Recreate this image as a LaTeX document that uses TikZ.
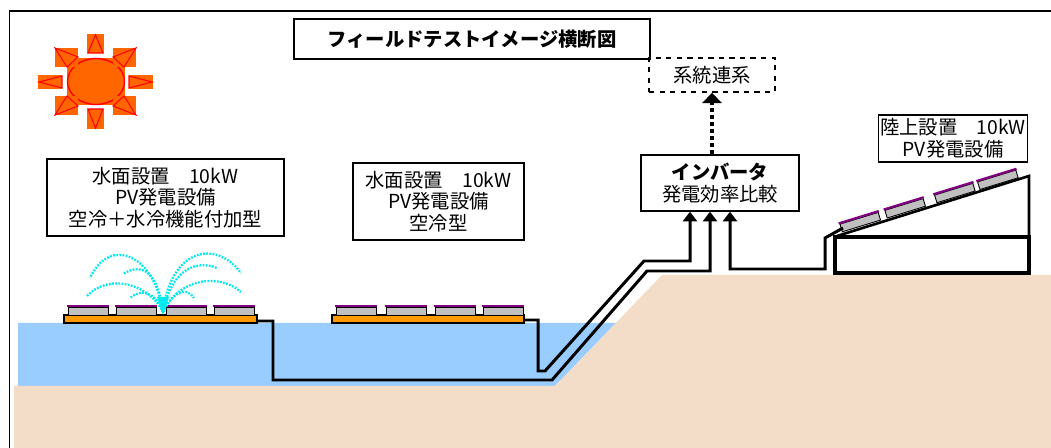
\documentclass[tikz,border=0pt]{standalone}
\usepackage{fontspec}
\setmainfont{Noto Sans CJK JP}
\usetikzlibrary{arrows.meta}

\definecolor{sunorange}{RGB}{255,102,0}
\definecolor{pond}{RGB}{153,204,255}
\definecolor{sand}{RGB}{243,221,201}
\definecolor{floatorange}{RGB}{255,153,0}
\definecolor{cellgray}{RGB}{192,192,192}
\definecolor{cellpurple}{RGB}{128,0,128}
\definecolor{spray}{RGB}{0,232,240}

\tikzset{
  box/.style={draw, line width=0.8pt, align=center, inner sep=1pt,
    font=\fontsize{11}{12.3}\selectfont},
  cable/.style={line width=1.7pt, line join=miter},
  feed/.style={-{Triangle[width=8pt,length=5.5pt]}},
  ray/.style={draw=red, fill=sunorange, line width=0.6pt},
  jet/.style={spray, line width=1.3pt, dash pattern=on 1pt off 0.8pt},
  cell/.style={draw, fill=cellgray, line width=0.5pt},
}

\begin{document}
\begin{tikzpicture}[x=0.02cm, y=-0.02cm]
\useasboundingbox (0,0) rectangle (1051,448);
% frame
\draw[line width=0.8pt] (9.5,448) -- (9.5,11) -- (1051,11);

% pond and ground
\fill[pond] (18,323) -- (616,323) -- (553,388) -- (18,388) -- cycle;
\fill[sand] (14,386) -- (555,386) -- (662,275) -- (1051,275) -- (1051,448) -- (14,448) -- cycle;

% sun
\fill[sunorange] (67,58) rectangle (125,105);
\draw[red, line width=0.8pt] (96,81.5) ellipse (28.5 and 23);
\fill[sunorange] (87,34) rectangle (104,53);
\draw[ray] (95.5,35) -- (88,53) -- (103,53) -- cycle;
\fill[sunorange] (87,109) rectangle (104,129);
\draw[ray] (95.5,128) -- (88,109) -- (103,109) -- cycle;
\fill[sunorange] (38,75) rectangle (62,89);
\draw[ray] (39,82) -- (62,76) -- (62,88) -- cycle;
\fill[sunorange] (129,75) rectangle (153,89);
\draw[ray] (152,82) -- (129,76) -- (129,88) -- cycle;
\fill[sunorange] (55,48) rectangle (78,67);
\draw[ray] (55,48) -- (78,57) -- (67,67) -- cycle;
\fill[sunorange] (113,48) rectangle (136,67);
\draw[ray] (136,48) -- (113,57) -- (124,67) -- cycle;
\fill[sunorange] (55,96) rectangle (78,115);
\draw[ray] (55,115) -- (67,96) -- (78,106) -- cycle;
\fill[sunorange] (113,96) rectangle (136,115);
\draw[ray] (136,115) -- (124,96) -- (113,106) -- cycle;

% labels
\node[box, minimum width=7.12cm, minimum height=0.8cm] (title) at (472,39)
  {\bfseries フィールドテストイメージ横断図};
\node[box, dashed, minimum width=2.52cm, minimum height=0.68cm] (grid) at (712,75) {系統連系};
\node[box, minimum width=3.16cm, minimum height=1.12cm] (inv) at (720,183)
  {\bfseries インバータ\\発電効率比較};
\node[box, minimum width=4.74cm, minimum height=1.54cm] (unitA) at (165.5,197.5)
  {水面設置　10kW\\PV発電設備\\空冷＋水冷機能付加型};
\node[box, minimum width=3.42cm, minimum height=1.54cm] (unitB) at (438.5,201.5)
  {水面設置　10kW\\PV発電設備\\空冷型};
\node[box, minimum width=2.96cm, minimum height=0.94cm] (unitC) at (953,138.5)
  {陸上設置　10kW\\PV発電設備};

% grid connection
\draw[line width=2.3pt, dash pattern=on 2.5pt off 1.5pt, -{Triangle[width=11pt,length=6pt]}]
  (grid.south |- inv.north) -- (grid.south);

% floating plant with sprinkler
\draw[fill=floatorange, line width=0.6pt] (64,315) rectangle (257,323);
\foreach \x in {68,116,166,214} {
  \draw[cell] (\x,307) rectangle ++(40,8);
  \fill[cellpurple] (\x-1,305) rectangle ++(42,2.2);
}
\fill[spray] (157,297) -- (169,297) -- (163,315) -- cycle;
\draw[jet] (163,312) .. controls (155,255) and (110,235) .. (90,278);
\draw[jet] (163,312) .. controls (150,285) and (110,272) .. (87,296);
\draw[jet] (163,312) .. controls (158,272) and (142,262) .. (123,274);
\draw[jet] (163,312) .. controls (155,292) and (142,288) .. (130,298);
\draw[jet] (163,312) .. controls (170,250) and (215,238) .. (241,273);
\draw[jet] (163,312) .. controls (175,283) and (215,270) .. (241,292);
\draw[jet] (163,312) .. controls (170,275) and (192,258) .. (217,268);
\draw[jet] (163,312) .. controls (172,294) and (185,285) .. (194,298);
\coordinate (floatA) at (257,321);

% floating plant, air cooled
\draw[fill=floatorange, line width=0.6pt] (332,315) rectangle (524,323);
\foreach \x in {336,386,435,483} {
  \draw[cell] (\x,307) rectangle ++(40,8);
  \fill[cellpurple] (\x-1,305) rectangle ++(42,2.2);
}
\coordinate (floatB) at (524,320);

% land plant
\draw[line width=1.8pt] (835,237) rectangle (1029,273);
\draw[line width=1.5pt] (837,236) -- (1029,176) -- (1029,237);
\begin{scope}[shift={(837,235)}, rotate=17.08]
  \foreach \s in {6,53,105,150} {
    \draw[cell] (\s,-1.5) rectangle ++(40,-8);
    \fill[cellpurple] (\s-1,-9.5) rectangle ++(42,-2.2);
  }
\end{scope}
\coordinate (landC) at (843,228);

% cables to the inverter
\draw[cable, feed] (floatB) -- (538,320) -- (538,371) -- (545,371) -- (644,261)
  -- (690,261) coordinate (bendB) -- (bendB |- inv.south);
\draw[cable, feed] (floatA) -- (273,321) -- (273,380) -- (552,380) -- (647,271)
  -- (710,271) coordinate (bendA) -- (bendA |- inv.south);
\draw[cable, feed] (landC) -- (825,238) -- (825,269) -- (730,269) coordinate (bendC)
  -- (bendC |- inv.south);
\end{tikzpicture}
\end{document}
